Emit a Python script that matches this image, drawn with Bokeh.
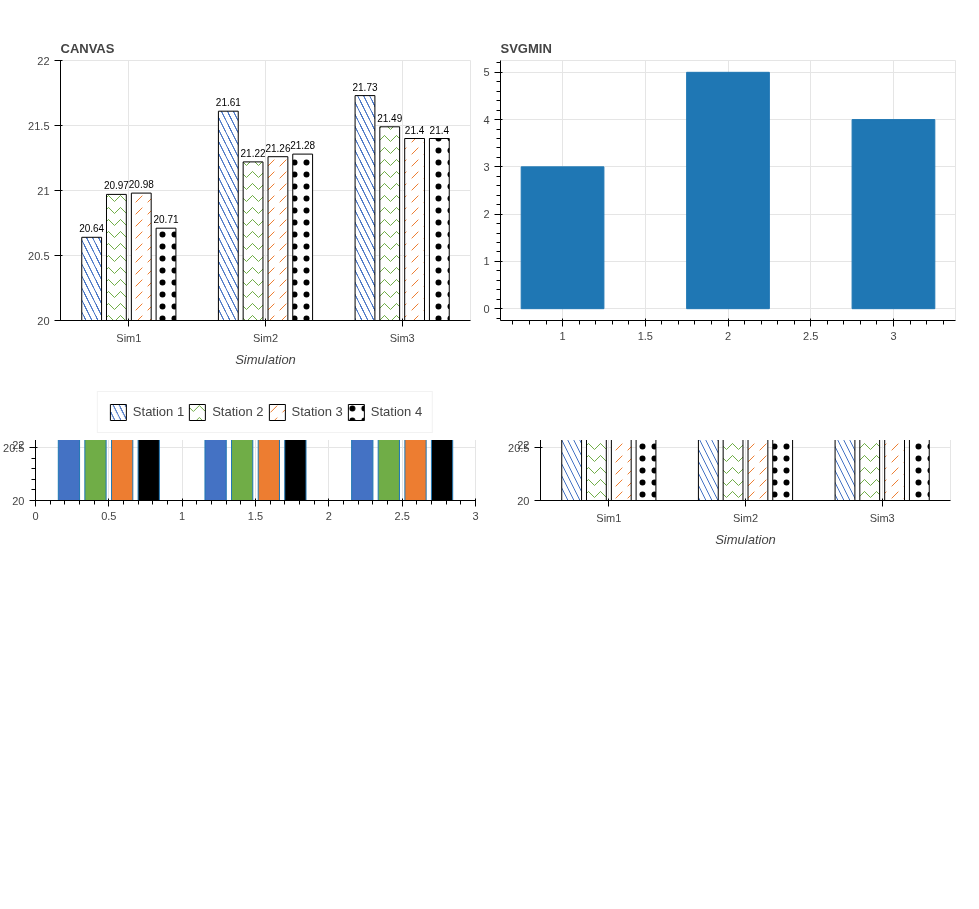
from bokeh.plotting import figure
from bokeh.models import ColumnDataSource, Range1d, FactorRange, FixedTicker, Legend, LegendItem
from bokeh.layouts import column, row
from bokeh.transform import dodge
from bokeh.embed import file_html
from bokeh.resources import INLINE
from bokeh.core.properties import value

sims = ["Sim1", "Sim2", "Sim3"]
stations = ["Station 1", "Station 2", "Station 3", "Station 4"]
service_station1 = [20.64, 21.61, 21.73]
service_station2 = [20.97, 21.22, 21.49]
service_station3 = [20.98, 21.26, 21.4]
service_station4 = [20.71, 21.28, 21.4]
service_ticks = [20, 20.5, 21, 21.5, 22]
series = [service_station1, service_station2, service_station3, service_station4]
colors = ["#4472c4", "#70ad47", "#ed7d31", "#000000"]
patterns = ["\\", "v", ",", "."]
offsets = [-0.272, -0.091, 0.091, 0.272]


def full(name, backend):
    p = figure(x_range=FactorRange(*sims), y_range=Range1d(20, 22), width=480, height=440,
               output_backend=backend, toolbar_location=None, title=name,
               min_border_left=60, min_border_right=10, min_border_top=60,
               min_border_bottom=120)
    p.yaxis.ticker = FixedTicker(ticks=service_ticks)
    p.xaxis.axis_label = "Simulation"
    items = []
    for i, st in enumerate(stations):
        src = ColumnDataSource(dict(sim=sims, val=series[i], base=[20] * 3,
                                    lab=["%g" % v for v in series[i]]))
        r = p.vbar(x=dodge("sim", offsets[i], range=p.x_range), top="val", bottom="base",
                   width=0.145, source=src, fill_color="white", line_color="black",
                   hatch_pattern=patterns[i], hatch_color=colors[i])
        items.append(LegendItem(label=st, renderers=[r]))
        p.text(x=dodge("sim", offsets[i], range=p.x_range), y="val", text="lab",
               source=src, text_font_size="10px", y_offset=-5,
               text_align="center", text_baseline="bottom")
    p.add_layout(Legend(items=items, orientation="horizontal", location="center"), "below")
    return p


def minimal(name):
    p = figure(width=480, height=440, output_backend="svg", toolbar_location=None,
               title=name)
    p.vbar(x=[1, 2, 3], top=[3, 5, 4], width=0.5)
    return p


def numeric(name):
    p = figure(x_range=Range1d(0, 3), y_range=Range1d(20, 22), width=480, height=440,
               output_backend="svg", toolbar_location=None, title=name)
    for i in range(4):
        p.vbar(x=[0.5 + offsets[i], 1.5 + offsets[i], 2.5 + offsets[i]], top=series[i],
               bottom=20, width=0.145, fill_color=colors[i])
    return p


layout = column(row(full("CANVAS", "canvas"), minimal("SVGMIN")),
                row(numeric("SVGNUM"), full("SVGFULL", "svg")))
open("out.html", "w").write(file_html(layout, INLINE))
